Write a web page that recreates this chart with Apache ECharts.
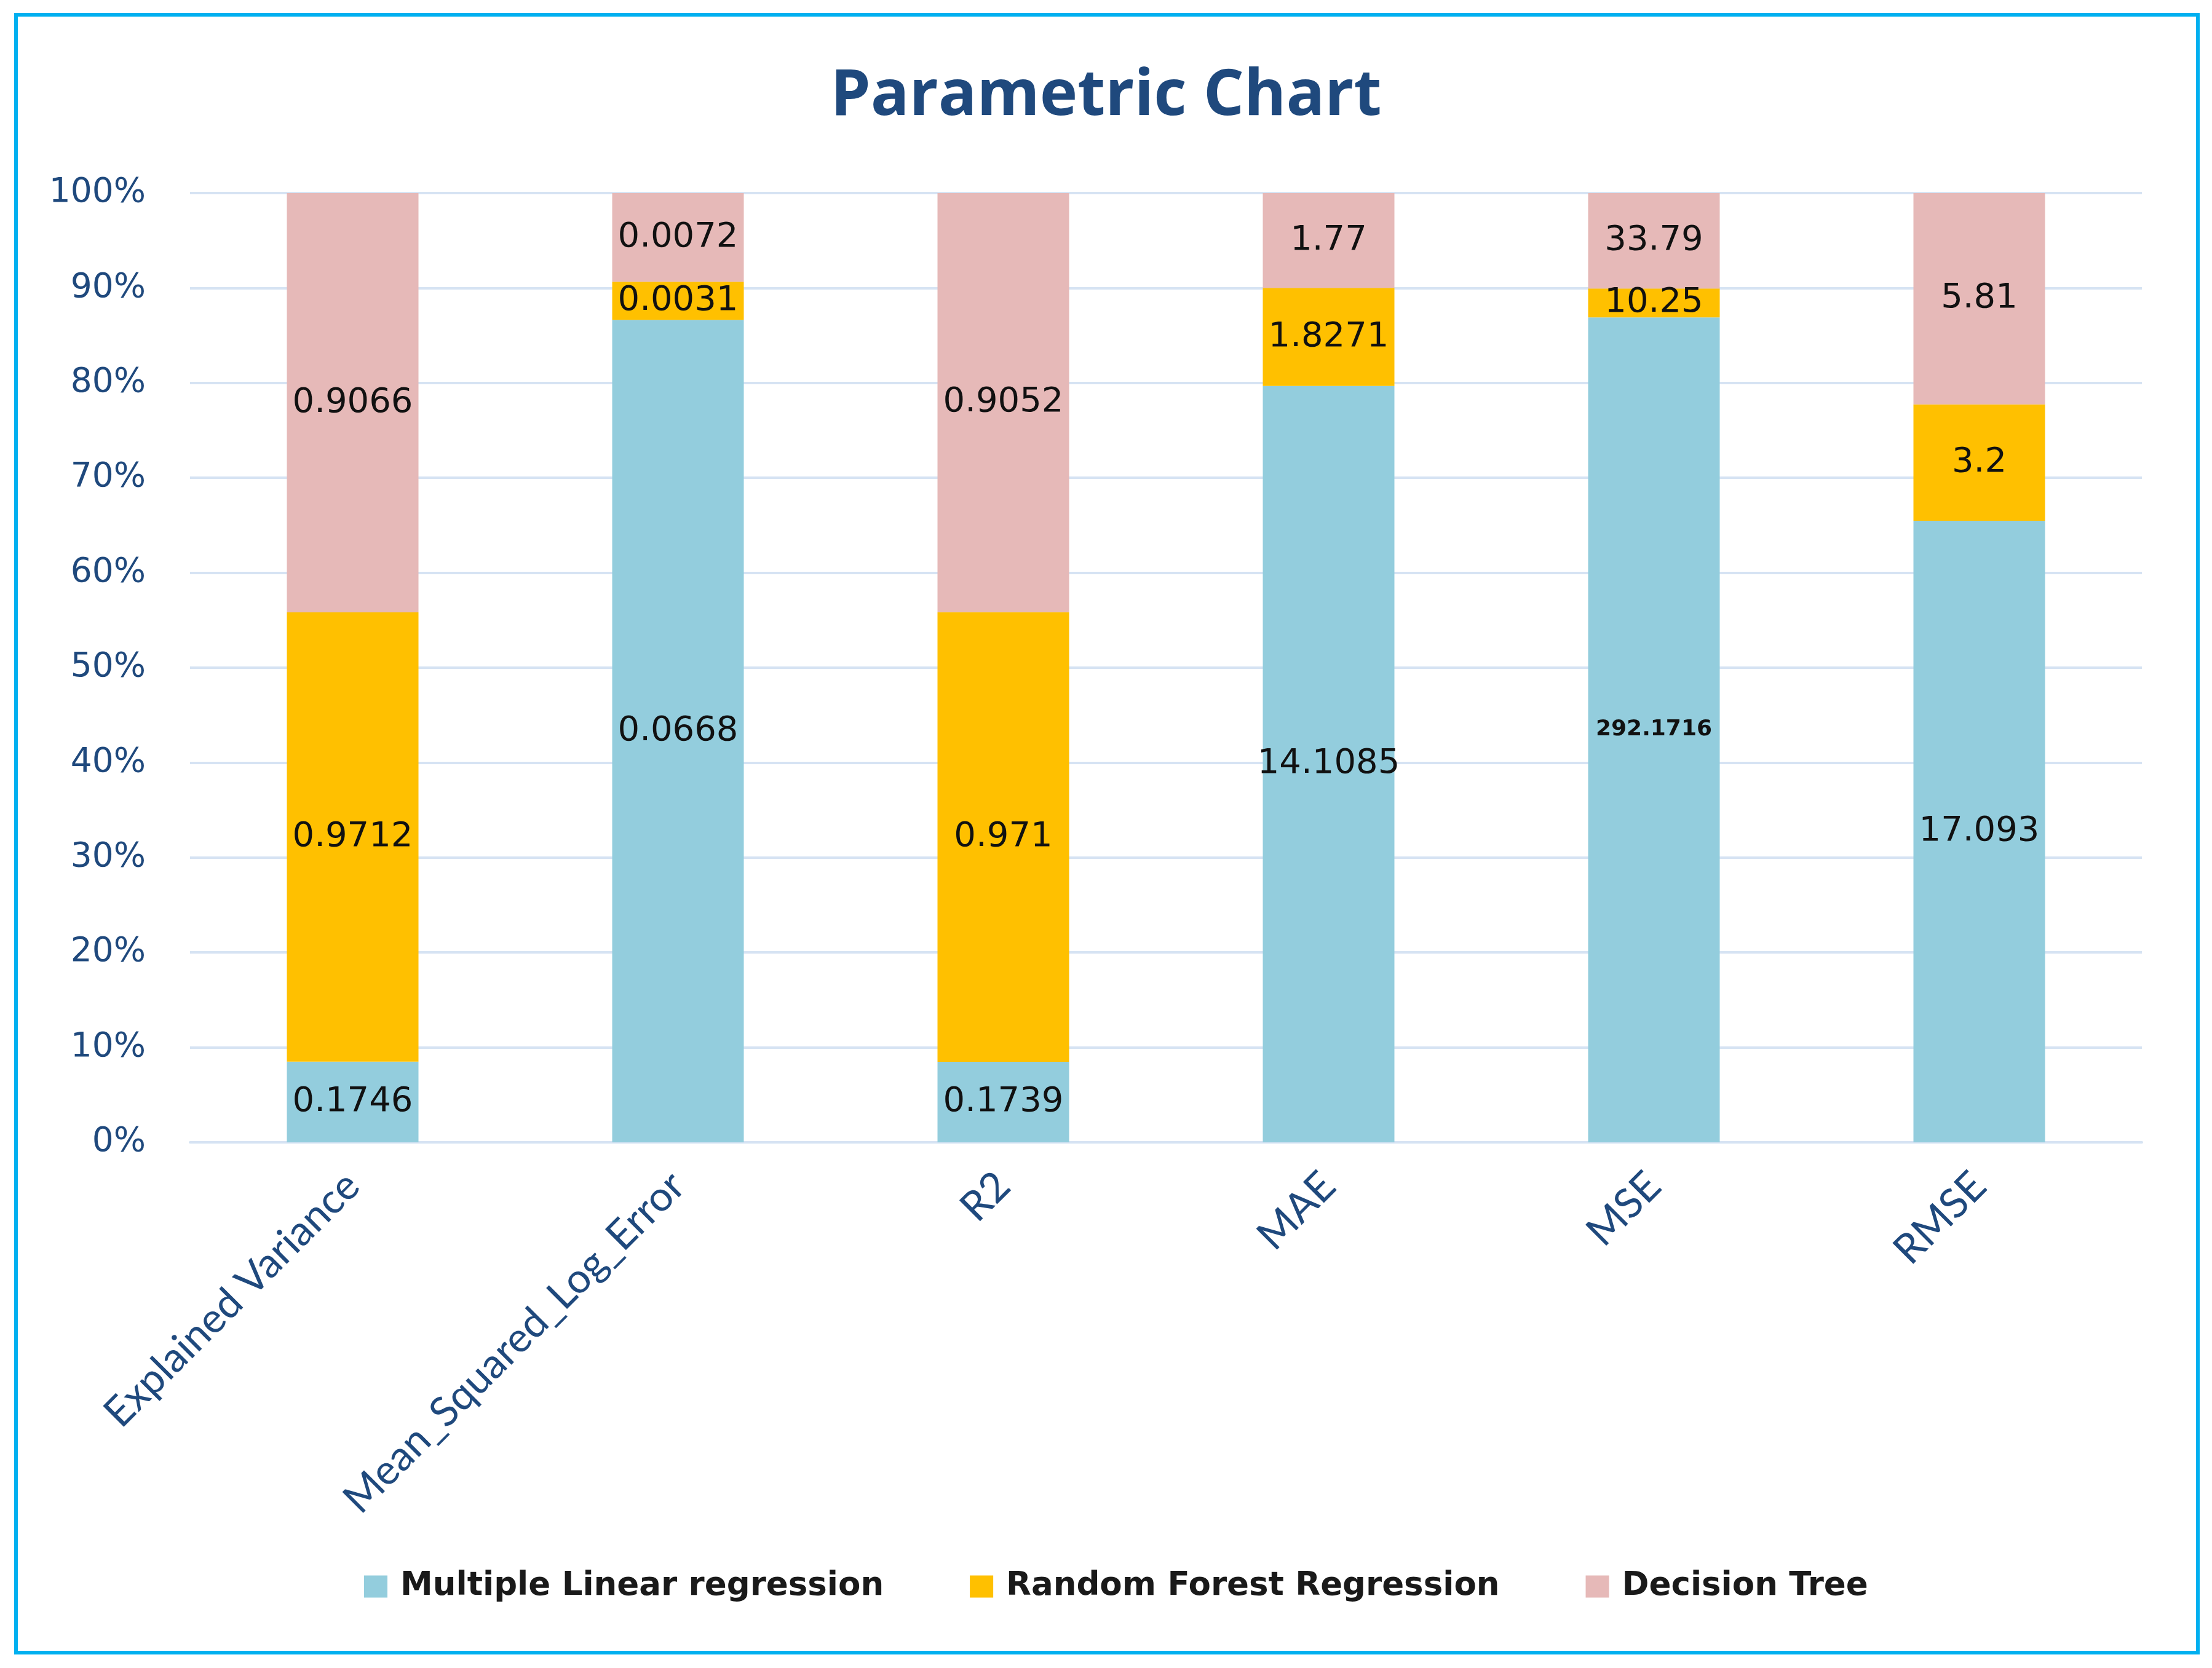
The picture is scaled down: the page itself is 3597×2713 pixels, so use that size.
<!DOCTYPE html>
<html>
<head>
<meta charset="utf-8">
<script src="https://cdn.jsdelivr.net/npm/echarts@6/dist/echarts.min.js"></script>
<style>
html,body{margin:0;padding:0;background:#fff;}
#chart{width:3597px;height:2713px;}
</style>
</head>
<body>
<div id="chart"></div>
<script>
var categories = ['Explained Variance', 'Mean_Squared_Log_Error', 'R2', 'MAE', 'MSE', 'RMSE'];
var seriesNames = ['Multiple Linear regression', 'Random Forest Regression', 'Decision Tree'];
var mlrValues = [0.1746, 0.0668, 0.1739, 14.1085, 292.1716, 17.093];
var rfValues = [0.9712, 0.0031, 0.971, 1.8271, 10.25, 3.2];
var dtValues = [0.9066, 0.0072, 0.9052, 1.77, 33.79, 5.81];
var yTicks = [0, 10, 20, 30, 40, 50, 60, 70, 80, 90, 100];

var rawSets = [mlrValues, rfValues, dtValues];
var colors = ['#93CDDD', '#FFC000', '#E6B9B8'];
var totals = categories.map(function (c, i) {
  return mlrValues[i] + rfValues[i] + dtValues[i];
});

var chart = echarts.init(document.getElementById('chart'), null, {renderer: 'canvas'});

var series = rawSets.map(function (vals, s) {
  return {
    name: seriesNames[s],
    type: 'bar',
    stack: 'total',
    barWidth: 214,
    itemStyle: {color: colors[s]},
    label: {
      show: true,
      position: 'inside',
      fontFamily: 'DejaVu Sans',
      fontSize: 56,
      color: '#111',
      formatter: function (p) { return String(vals[p.dataIndex]); }
    },
    data: vals.map(function (v, i) {
      var item = {value: v / totals[i] * 100};
      if (s === 0 && i === 4) {
        item.label = {fontSize: 36, fontWeight: 'bold'};
      }
      return item;
    })
  };
});

chart.setOption({
  animation: false,
  backgroundColor: '#ffffff',
  title: {
    text: 'Parametric Chart',
    left: 'center',
    top: 100,
    textStyle: {
      fontFamily: 'Open Sans',
      fontWeight: 'bold',
      fontSize: 104,
      color: '#1F497D'
    }
  },
  graphic: [{
    type: 'rect',
    shape: {x: 26, y: 24, width: 3548, height: 2664},
    style: {fill: 'none', stroke: '#00B0F0', lineWidth: 6},
    silent: true,
    z: 100
  }],
  legend: {
    data: seriesNames,
    left: 587,
    top: 2549,
    itemWidth: 38,
    itemHeight: 36,
    itemGap: 140,
    icon: 'rect',
    textStyle: {
      fontFamily: 'DejaVu Sans',
      fontWeight: 'bold',
      fontSize: 53,
      color: '#1a1a1a',
      padding: [0, 0, 0, 16]
    }
  },
  grid: {left: 309, right: 114, top: 314, bottom: 855, containLabel: false},
  xAxis: {
    type: 'category',
    data: categories,
    axisLine: {show: true, lineStyle: {color: '#D6E3F3', width: 4}},
    axisTick: {show: false},
    axisLabel: {
      interval: 0,
      rotate: 45,
      margin: 60,
      fontFamily: 'Lato',
      fontSize: 67,
      color: '#1F497D'
    }
  },
  yAxis: {
    type: 'value',
    min: 0,
    max: 100,
    interval: 10,
    axisLine: {show: false},
    axisTick: {show: false},
    splitLine: {show: true, lineStyle: {color: '#D6E3F3', width: 4}},
    axisLabel: {
      margin: 72,
      fontFamily: 'DejaVu Sans',
      fontSize: 55,
      color: '#1F497D',
      formatter: function (v) { return yTicks.indexOf(v) >= 0 ? v + '%' : ''; }
    }
  },
  series: series
});
</script>
</body>
</html>
